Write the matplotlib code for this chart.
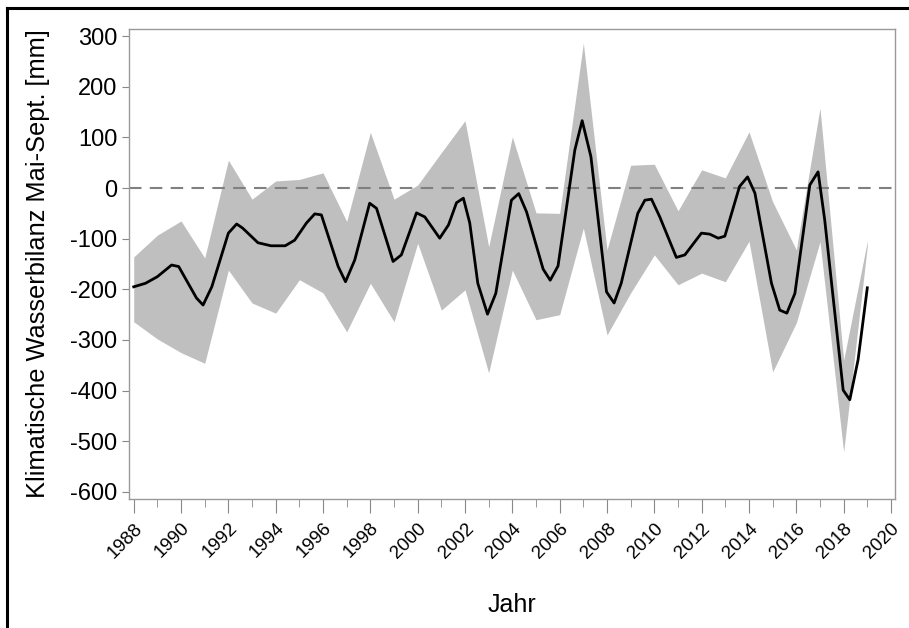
import matplotlib
matplotlib.use("Agg")
import matplotlib.pyplot as plt
from matplotlib.lines import Line2D
from matplotlib.ticker import MultipleLocator

plt.rcParams['font.family'] = ['Liberation Sans', 'DejaVu Sans']
plt.rcParams['axes.unicode_minus'] = False

# Spannweite (min/max) je Jahr
years = list(range(1988, 2020))
upper = [-136, -93, -65, -138, 55, -22, 14, 17, 30, -66, 110, -22, 6, 70, 133, -116,
         101, -49, -50, 286, -122, 45, 47, -45, 36, 20, 111, -27, -122, 158, -340, -105]
lower = [-264, -298, -325, -346, -162, -227, -247, -181, -207, -284, -188, -264, -109, -241, -201, -365,
         -162, -260, -250, -79, -290, -207, -132, -191, -168, -185, -105, -363, -266, -106, -521, -115]

# Mittelwert (geglaettete Linie)
line_t = [1988.0, 1988.5, 1989.0, 1989.6, 1989.9, 1990.65, 1990.93, 1991.3, 1992.0, 1992.35,
          1992.6, 1993.25, 1993.8, 1994.4, 1994.8, 1995.3, 1995.65, 1995.93, 1996.64, 1996.95,
          1997.34, 1997.97, 1998.26, 1998.96, 1999.31, 1999.95, 2000.3, 2000.93, 2001.3, 2001.64,
          2001.93, 2002.2, 2002.54, 2002.95, 2003.3, 2003.96, 2004.27, 2004.6, 2005.3, 2005.6,
          2005.93, 2006.64, 2006.95, 2007.32, 2007.98, 2008.3, 2008.6, 2009.3, 2009.6, 2009.88,
          2010.23, 2010.93, 2011.29, 2011.99, 2012.34, 2012.7, 2012.98, 2013.6, 2013.94, 2014.25,
          2014.95, 2015.3, 2015.6, 2015.94, 2016.57, 2016.92, 2017.2, 2017.98, 2018.26, 2018.61,
          2019.0]
line_v = [-195, -188, -175, -152, -155, -217, -231, -195, -89, -71,
          -79, -108, -114, -114, -103, -69, -51, -53, -155, -185,
          -142, -30, -40, -145, -132, -49, -57, -99, -73, -29,
          -20, -69, -188, -249, -208, -24, -11, -47, -160, -182,
          -154, 75, 133, 62, -205, -227, -188, -50, -24, -22,
          -57, -137, -132, -89, -91, -99, -95, 3, 22, -10,
          -188, -241, -247, -208, 6, 32, -63, -399, -418, -339,
          -197]

fig = plt.figure(figsize=(9.09, 6.28), dpi=100)
ax = fig.add_axes([0.1419, 0.2054, 0.8427, 0.7484])

ax.fill_between(years, lower, upper, color='#bfbfbf', linewidth=0)
ax.axhline(0, color='#808080', linewidth=1.5, dashes=(6, 4))
ax.plot(line_t, line_v, color='black', linewidth=2.0)

ax.set_xlim(1987.8, 2020.17)
ax.set_ylim(-614, 314)
ax.set_yticks(range(-600, 301, 100))
ax.xaxis.set_major_locator(MultipleLocator(2))
ax.xaxis.set_minor_locator(MultipleLocator(1))

for s in ax.spines.values():
    s.set_color('#999999')
    s.set_linewidth(1.0)
ax.tick_params(axis='y', colors='#888888', labelcolor='black', labelsize=17, length=5)
ax.tick_params(axis='x', which='major', colors='#888888', labelcolor='black', labelsize=13.5,
               length=10, pad=5)
ax.tick_params(axis='x', which='minor', colors='#888888', length=6)
plt.setp(ax.get_xticklabels(), rotation=45, ha='right', rotation_mode='anchor')

ax.set_ylabel('Klimatische Wasserbilanz Mai-Sept. [mm]', fontsize=18.3)
ax.yaxis.set_label_coords(-0.103, 0.5)
fig.text(0.563, 0.0366, 'Jahr', fontsize=18, ha='center', va='center')

# Rahmen oben und links
fig.add_artist(Line2D([7 / 909, 1.0], [1 - 8 / 628, 1 - 8 / 628], color='black', linewidth=2.2))
fig.add_artist(Line2D([7 / 909, 7 / 909], [0.0, 1 - 8 / 628], color='black', linewidth=2.2))

fig.savefig('out.png', dpi=100)
